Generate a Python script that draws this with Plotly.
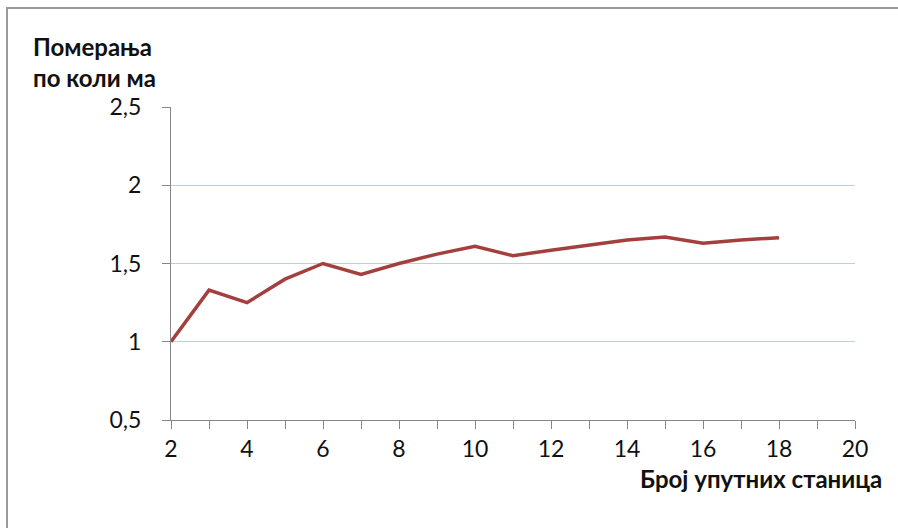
import plotly.graph_objects as go

stations = [2, 3, 4, 5, 6, 7, 8, 9, 10, 11, 12, 13, 14, 15, 16, 17, 18]
moves = [1.0, 1.33, 1.25, 1.40, 1.50, 1.43, 1.50, 1.56, 1.61, 1.55, 1.585, 1.62, 1.65, 1.67, 1.63, 1.65, 1.665]

y_title_lines = ["Померања", "по коли ма"]
x_title = "Број упутних станица"

W, H = 898, 528
L, R, T, B = 171, 43, 107, 108
pw, ph = W - L - R, H - T - B

def px(x):
    return (x - L) / pw

def py(y):
    return (H - B - y) / ph

fig = go.Figure()
fig.add_trace(go.Scatter(
    x=stations, y=moves, mode="lines",
    line=dict(color="#A3403E", width=3.5),
    hoverinfo="skip", showlegend=False,
))

tickfont = dict(family="Lato, Open Sans, sans-serif", size=23, color="#111111")
ytitlefont = dict(family="Lato, Open Sans, sans-serif", size=24, color="#111111", weight="bold")
xtitlefont = dict(family="Lato, Open Sans, sans-serif", size=24, color="#111111", weight="bold")

fig.update_layout(
    width=W, height=H,
    margin=dict(l=L, r=R, t=T, b=B),
    paper_bgcolor="white", plot_bgcolor="white",
    separators=", ",
    xaxis=dict(
        range=[2, 20], tickmode="linear", tick0=2, dtick=2,
        showgrid=False, zeroline=False,
        showline=True, linecolor="#868686", linewidth=1,
        ticks="outside", ticklen=8, tickcolor="#868686",
        minor=dict(dtick=1, ticks="outside", ticklen=8, tickcolor="#868686"),
        tickfont=tickfont, ticklabelstandoff=0,
    ),
    yaxis=dict(
        range=[0.5, 2.5], tickmode="linear", tick0=0.5, dtick=0.5,
        showgrid=True, gridcolor="#BCD0E4", gridwidth=1, zeroline=False,
        showline=True, linecolor="#868686", linewidth=1,
        ticks="outside", ticklen=8, tickcolor="#868686",
        tickfont=tickfont, ticklabelstandoff=16,
    ),
    annotations=[
        dict(text=y_title_lines[0], x=px(31), y=py(46), xref="paper", yref="paper",
             xanchor="left", yanchor="middle", showarrow=False, font=ytitlefont),
        dict(text=y_title_lines[1], x=px(31), y=py(77), xref="paper", yref="paper",
             xanchor="left", yanchor="middle", showarrow=False, font=ytitlefont),
        dict(text=x_title, x=px(884), y=py(478), xref="paper", yref="paper",
             xanchor="right", yanchor="middle", showarrow=False, font=xtitlefont),
    ],
    shapes=[
        dict(type="rect", xref="paper", yref="paper",
             x0=px(7), y0=py(560), x1=px(930), y1=py(8),
             line=dict(color="#9A9A9A", width=2), layer="below"),
    ],
)

fig.write_html("out.html")
